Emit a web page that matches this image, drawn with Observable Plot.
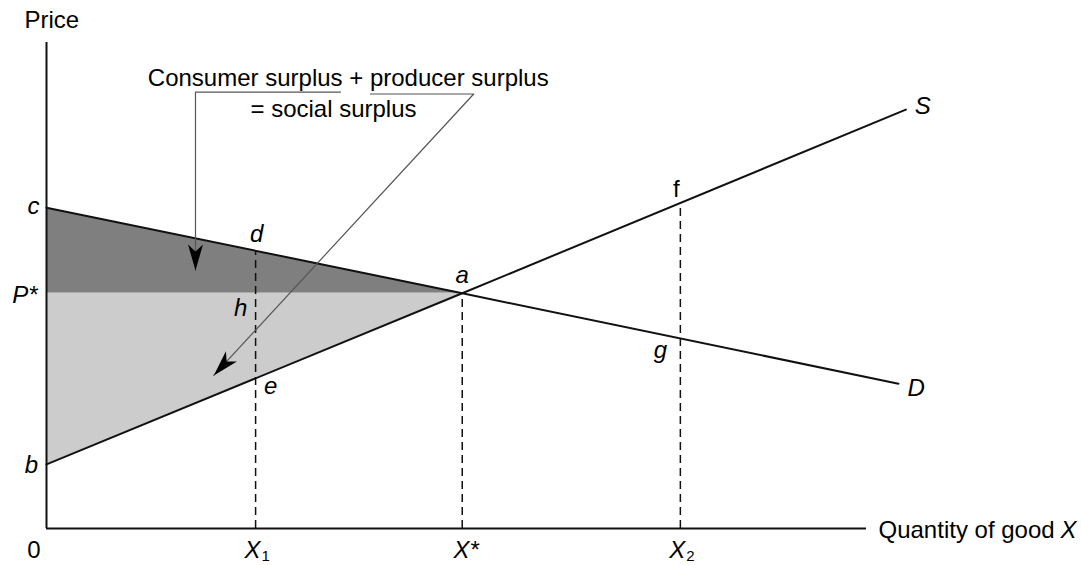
<!DOCTYPE html>
<html><head><meta charset="utf-8">
<script src="https://cdn.jsdelivr.net/npm/d3@7"></script>
<script src="https://cdn.jsdelivr.net/npm/@observablehq/plot@0.6"></script>
<style>body{margin:0;background:#fff} svg{display:block}</style>
</head><body><div id="chart"></div>
<script>
// ---- data (arbitrary units 0-100) ----
const priceTitle = "Price";
const quantityTitle = "Quantity of good ";
const quantityTitleVar = "X";
const demandQ = [0, 50.7, 103.9];
const demandP = [66, 48.4, 29.8];
const supplyQ = [0, 50.7, 104.8];
const supplyP = [13.2, 48.4, 86.2];
const equilibriumP = 48.4;
const dropQ = [25.5, 50.7, 77.3];
const dropTopP = [57.2, 48.4, 66.9];
const tickQ = [0, 25.5, 50.7, 77.3];
const tickBase = ["0", "X", "X*", "X"];
const tickSub = ["", "1", "", "2"];
const pointLabels = ["c", "b", "P*", "d", "h", "e", "a", "f", "g", "S", "D"];
const pointQ = [0, 0, 0, 25.5, 25.5, 25.5, 50.7, 77.3, 77.3, 104.8, 103.9];
const pointP = [66, 13.2, 48.4, 57.2, 48.4, 30.7, 48.4, 66.9, 39.1, 86.2, 29.8];
const noteLines = ["Consumer surplus + producer surplus", "= social surplus"];
const noteQ = [36.8, 35.0];
const noteP = [92.6, 86.2];
const consumerPointerQ = [35.85, 18.17, 18.17];
const consumerPointerP = [89.8, 89.8, 53.1];
const producerPointerQ = [39.5, 52.1, 20.4];
const producerPointerP = [89.4, 89.4, 31.5];

// ---- layout & style ----
const FONT = '"Liberation Sans", Arial, Helvetica, sans-serif';
const FS = 24;
const width = 1081, height = 565;
const mL = 46, mR = 215, mT = 42, mB = 37;
const qMax = 100, pMax = 100;
const kx = (width - mL - mR) / qMax, ky = (height - mT - mB) / pMax;

const labelStyle = {
  "c":  {dx: -13, dy: -1, anchor: "middle", italic: true},
  "b":  {dx: -15, dy: 1, anchor: "middle", italic: true},
  "P*": {dx: -9, dy: 2, anchor: "end", italic: true},
  "d":  {dx: 1, dy: -16, anchor: "middle", italic: true},
  "h":  {dx: -15, dy: 15, anchor: "middle", italic: true},
  "e":  {dx: 15, dy: 7, anchor: "middle", italic: true},
  "a":  {dx: 0, dy: -18, anchor: "middle", italic: true},
  "f":  {dx: -4, dy: -14, anchor: "middle", italic: false},
  "g":  {dx: -20, dy: 12, anchor: "middle", italic: true},
  "S":  {dx: 9, dy: -3, anchor: "start", italic: true},
  "D":  {dx: 9, dy: 5, anchor: "start", italic: true}
};

const zip = (qs, ps) => qs.map((q, i) => ({q, p: ps[i]}));
const demand = zip(demandQ, demandP);
const supply = zip(supplyQ, supplyP);
const consumerArea = [0, 1].map(i => ({q: demandQ[i], lo: equilibriumP, hi: demandP[i]}));
const producerArea = [0, 1].map(i => ({q: supplyQ[i], lo: supplyP[i], hi: equilibriumP}));
const drops = dropQ.map((q, i) => ({q, top: dropTopP[i]}));
const notes = noteLines.map((t, i) => ({t, q: noteQ[i], p: noteP[i]}));

function headOf(qs, ps) {
  const n = qs.length;
  const vx = (qs[n - 1] - qs[n - 2]) * kx;
  const vy = -(ps[n - 1] - ps[n - 2]) * ky;
  return {q: qs[n - 1], p: ps[n - 1], rot: Math.atan2(-vx, vy) * 180 / Math.PI};
}
const heads = [headOf(consumerPointerQ, consumerPointerP), headOf(producerPointerQ, producerPointerP)];
const arrowHead = {
  draw(ctx) {
    const L = 26, w = 7.5, n = 19;
    ctx.moveTo(0, 0); ctx.lineTo(-w, -L); ctx.lineTo(0, -n); ctx.lineTo(w, -L); ctx.closePath();
  }
};

const txt = {fontFamily: FONT, fontSize: FS, fill: "#000"};

const labelMarks = pointLabels.map((t, i) => {
  const s = labelStyle[t];
  return Plot.text([{q: pointQ[i], p: pointP[i], t}], {
    x: "q", y: "p", text: "t", ...txt,
    fontStyle: s.italic ? "italic" : "normal",
    textAnchor: s.anchor, dx: s.dx, dy: s.dy
  });
});

const ticks = tickQ.map((q, i) => ({q, p: 0, base: tickBase[i], sub: tickSub[i]}));

const chart = Plot.plot({
  width, height,
  marginLeft: mL, marginRight: mR, marginTop: mT, marginBottom: mB,
  x: {domain: [0, qMax], axis: null},
  y: {domain: [0, pMax], axis: null},
  style: {background: "#fff", fontFamily: FONT},
  marks: [
    Plot.areaY(consumerArea, {x: "q", y1: "lo", y2: "hi", fill: "#7f7f7f"}),
    Plot.areaY(producerArea, {x: "q", y1: "lo", y2: "hi", fill: "#cccccc"}),
    Plot.ruleX(drops, {x: "q", y1: 0, y2: "top", stroke: "#111", strokeWidth: 1.5, strokeDasharray: "8,5"}),
    Plot.line(demand, {x: "q", y: "p", stroke: "#111", strokeWidth: 2}),
    Plot.line(supply, {x: "q", y: "p", stroke: "#111", strokeWidth: 2}),
    Plot.ruleX([0], {y1: 0, y2: pMax, stroke: "#111", strokeWidth: 2}),
    Plot.ruleY([0], {x1: 0, x2: qMax, stroke: "#111", strokeWidth: 2}),
    Plot.line(zip(consumerPointerQ, consumerPointerP), {x: "q", y: "p", stroke: "#555", strokeWidth: 1.2}),
    Plot.line(zip(producerPointerQ, producerPointerP), {x: "q", y: "p", stroke: "#555", strokeWidth: 1.2}),
    Plot.dot(heads, {x: "q", y: "p", rotate: "rot", symbol: arrowHead, fill: "#000", stroke: "none"}),
    Plot.text(notes, {x: "q", y: "p", text: "t", ...txt, textAnchor: "middle"}),
    ...labelMarks,
    Plot.text([{q: 0, p: pMax, t: priceTitle}], {x: "q", y: "p", text: "t", ...txt, textAnchor: "start", dx: -22, dy: -22}),
    Plot.text([{q: qMax, p: 0, t: quantityTitle}], {x: "q", y: "p", text: "t", ...txt, textAnchor: "start", dx: 12, dy: 2}),
    Plot.text([{q: qMax, p: 0, t: quantityTitleVar}], {x: "q", y: "p", text: "t", ...txt, fontStyle: "italic", textAnchor: "end", dx: 210, dy: 2}),
    Plot.text(ticks.filter(d => d.base === "0"), {x: "q", y: "p", text: "base", ...txt, dx: -12.5, dy: 22}),
    Plot.text(ticks.filter(d => d.base !== "0" && d.sub), {x: "q", y: "p", text: "base", ...txt, fontStyle: "italic", dx: -3, dy: 22}),
    Plot.text(ticks.filter(d => d.sub), {x: "q", y: "p", text: "sub", ...txt, fontSize: 15, dx: 10, dy: 28}),
    Plot.text(ticks.filter(d => d.base === "X*"), {x: "q", y: "p", text: "base", ...txt, fontStyle: "italic", dx: 4, dy: 22})
  ]
});
document.getElementById("chart").appendChild(chart);
</script>
</body></html>
